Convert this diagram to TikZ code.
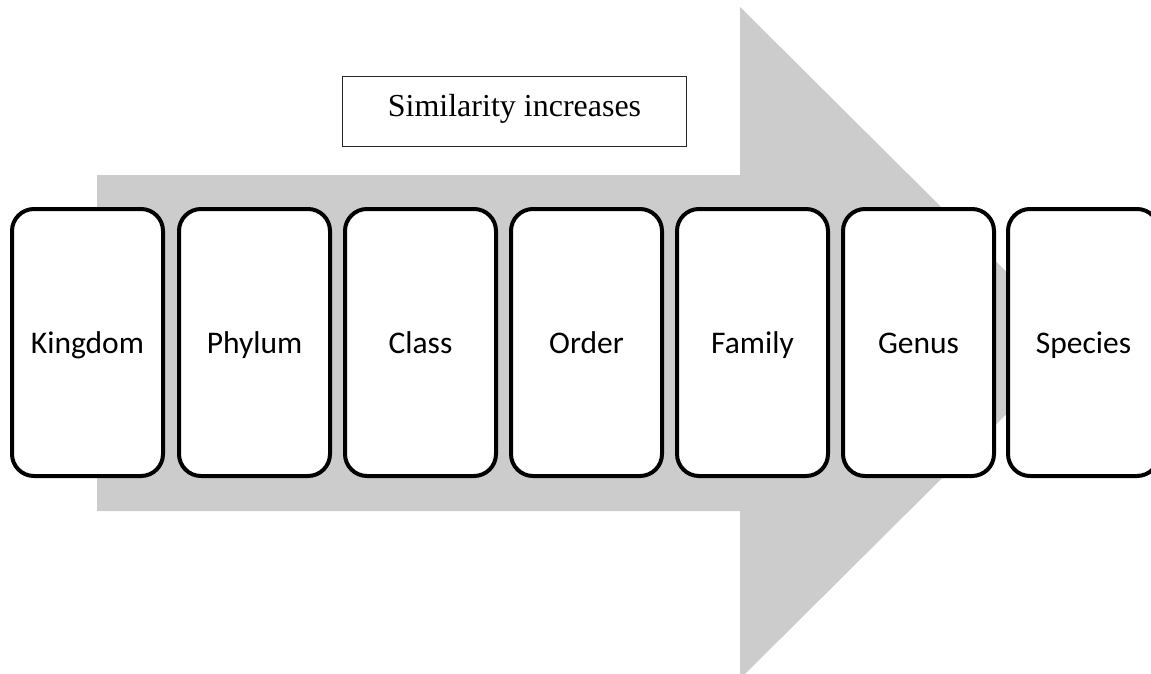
\documentclass[tikz,border=0pt]{standalone}
\usepackage{fontspec}
\setmainfont{Liberation Serif}
\newfontfamily\calibrifont{Carlito}
\definecolor{arrowgray}{RGB}{204,204,204}
\tikzset{
  card/.style={draw=black, line width=4pt, rounded corners=22pt, fill=white,
    minimum width=151pt, minimum height=267pt, inner sep=0pt,
    text height=29.5pt, text depth=8.5pt,
    font=\calibrifont\fontsize{31.5}{37}\selectfont},
  labelbox/.style={draw=black!85, line width=1.3pt, fill=white,
    minimum width=344pt, minimum height=70pt, inner sep=0pt,
    text height=19pt, text depth=8pt,
    font=\fontsize{32}{38}\selectfont}
}
\begin{document}
\begin{tikzpicture}[x=1pt,y=-1pt]
\useasboundingbox (0,0) rectangle (1151,674);
\begin{scope}
\clip (0,0) rectangle (1151,674);
\fill[arrowgray] (97,175) -- (740,175) -- (740,7) -- (1078,343) -- (740,679) -- (740,511) -- (97,511) -- cycle;
\node[card] (kingdom) at (87.5,342.5) {Kingdom};
\node[card] (phylum) at (254.5,342.5) {Phylum};
\node[card] (class) at (420.5,342.5) {Class};
\node[card] (order) at (586.5,342.5) {Order};
\node[card] (family) at (752.5,342.5) {Family};
\node[card] (genus) at (918.5,342.5) {Genus};
\node[card] (species) at (1083.5,342.5) {Species};
\node[labelbox] (sim) at (514.5,111.5) {Similarity increases};
\end{scope}
\end{tikzpicture}
\end{document}
